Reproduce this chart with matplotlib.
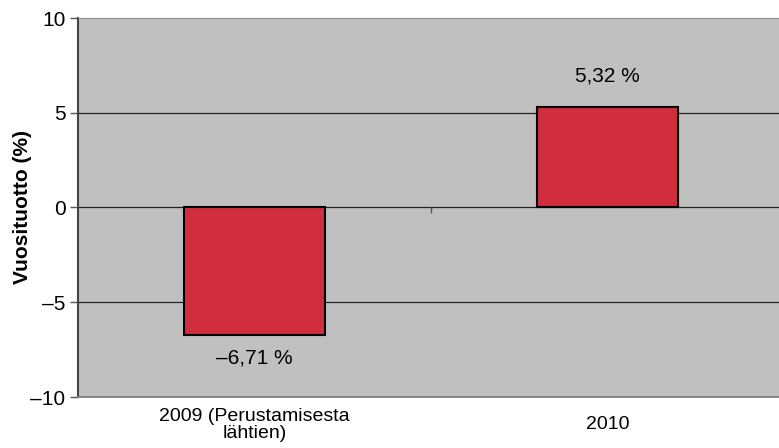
import matplotlib.pyplot as plt

plt.rcParams['font.family'] = ['Liberation Sans', 'DejaVu Sans']

categories = ["2009 (Perustamisesta\nlähtien)", "2010"]
returns = [-6.71, 5.32]
value_labels = ["–6,71 %", "5,32 %"]
yticks = [-10, -5, 0, 5, 10]
ytick_labels = ["–10", "–5", "0", "5", "10"]

fig = plt.figure(figsize=(7.79, 4.48), dpi=100)
ax = fig.add_axes([78 / 779, 1 - 397 / 448, 706 / 779, 379 / 448])
ax.set_facecolor("#C0C0C0")

x = list(range(len(categories)))
ax.bar(x, returns, width=0.4, color="#D02E3C", edgecolor="black", linewidth=1.5, zorder=3)

for xi, v, lab in zip(x, returns, value_labels):
    if v < 0:
        ax.text(xi, v - 0.75, lab, ha="center", va="top", fontsize=15)
    else:
        ax.text(xi, v + 1.1, lab, ha="center", va="bottom", fontsize=15)

ax.set_xlim(-0.5, 1.5)
ax.set_ylim(-10, 10)
ax.set_yticks(yticks)
ax.set_yticklabels(ytick_labels, fontsize=15)
for g in [-5, 0, 5]:
    ax.axhline(g, color="#222222", linewidth=0.9, zorder=1)
# category divider tick on the zero axis
ax.vlines(0.5, -0.3, 0, color="#555555", linewidth=1, zorder=2)

ax.set_xticks(x)
ax.set_xticklabels(categories, fontsize=14, linespacing=1.0, va="center")
ax.tick_params(axis="x", length=0, pad=20)
ax.tick_params(axis="y", length=6, width=1, color="#555555", pad=3)

ax.spines["left"].set_color("#444444")
ax.spines["left"].set_linewidth(1.5)
ax.spines["bottom"].set_color("#808080")
ax.spines["bottom"].set_linewidth(1.3)
ax.spines["top"].set_color("#909090")
ax.spines["right"].set_visible(False)

ax.set_ylabel("Vuosituotto (%)", fontsize=15, fontweight="bold")
ax.yaxis.set_label_coords(-0.065, 0.5)

fig.savefig("out.png", dpi=100)
